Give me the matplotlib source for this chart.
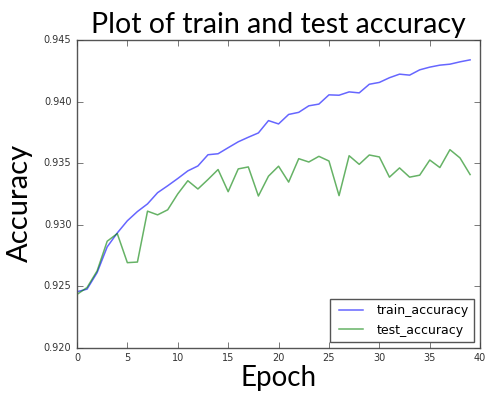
import numpy as np
import matplotlib
matplotlib.use('Agg')
import matplotlib.pyplot as plt

# accuracy per epoch
epochs = np.arange(40)
train_accuracy = [0.92456, 0.92477, 0.92611, 0.92820, 0.92933, 0.93032, 0.93107, 0.93169,
                  0.93260, 0.93316, 0.93375, 0.93437, 0.93477, 0.93568, 0.93576, 0.93625,
                  0.93673, 0.93710, 0.93745, 0.93845, 0.93818, 0.93895, 0.93912, 0.93965,
                  0.93979, 0.94054, 0.94051, 0.94078, 0.94070, 0.94140, 0.94155, 0.94193,
                  0.94222, 0.94214, 0.94257, 0.94279, 0.94295, 0.94303, 0.94322, 0.94338]
test_accuracy = [0.92434, 0.92490, 0.92625, 0.92866, 0.92928, 0.92692, 0.92697, 0.93110,
                 0.93080, 0.93121, 0.93250, 0.93357, 0.93290, 0.93367, 0.93448, 0.93268,
                 0.93453, 0.93469, 0.93233, 0.93394, 0.93475, 0.93346, 0.93536, 0.93509,
                 0.93555, 0.93517, 0.93236, 0.93560, 0.93490, 0.93566, 0.93550, 0.93386,
                 0.93461, 0.93386, 0.93402, 0.93525, 0.93464, 0.93609, 0.93542, 0.93407]

plt.style.use('classic')
fig = plt.figure(figsize=(4.87, 3.99), dpi=100, facecolor='white')
ax = fig.add_axes([0.158, 0.128, 0.828, 0.772])

ax.plot(epochs, train_accuracy, color='b', alpha=0.6, lw=1.1, label='train_accuracy')
ax.plot(epochs, test_accuracy, color='g', alpha=0.6, lw=1.1, label='test_accuracy')

ax.set_xlim(0, 40)
ax.set_ylim(0.920, 0.945)
ax.set_xticks(np.arange(0, 41, 5))
ax.set_yticks(np.arange(0.920, 0.9451, 0.005))
ax.set_yticklabels(['%.3f' % v for v in np.arange(0.920, 0.9451, 0.005)])
ax.tick_params(labelsize=7, colors='#444444', labelcolor='#333333')
for s in ax.spines.values():
    s.set_color('#555555')

lfont = 'Lato'
ax.set_title('Plot of train and test accuracy', fontsize=20.5, family=lfont, pad=5)
ax.set_xlabel('Epoch', fontsize=20, family=lfont, labelpad=1)
ax.set_ylabel('Accuracy', fontsize=21, family=lfont)
ax.yaxis.set_label_coords(-0.11, 0.47)

leg = ax.legend(loc='lower right', fontsize=9, handlelength=2.5, borderaxespad=0.5)
leg.get_frame().set_edgecolor('#555555')

fig.savefig('out.png', dpi=100, facecolor='white')
